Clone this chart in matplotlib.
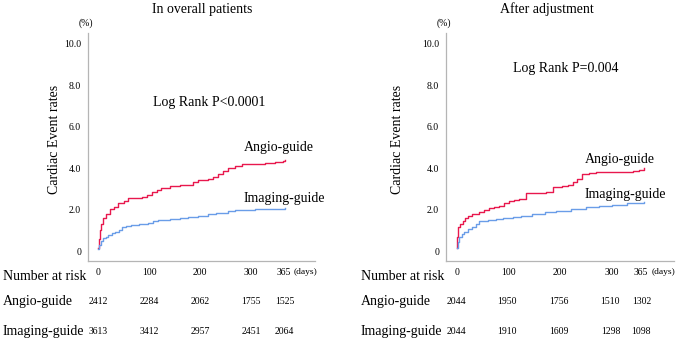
import numpy as np
import matplotlib
matplotlib.use('Agg')
import matplotlib.pyplot as plt
import matplotlib.transforms as mtransforms

# ---- data ----
titles = ['In overall patients', 'After adjustment']
log_rank = ['Log Rank P<0.0001', 'Log Rank P=0.004']
groups = ['Angio-guide', 'Imaging-guide']

x_ticks = [0, 100, 200, 300, 365]
y_ticks = [0, 2, 4, 6, 8, 10]
y_tick_labels = ['0', '2.0', '4.0', '6.0', '8.0', '10.0']

# overall patients
all_angio_days = [0, 1, 3, 6, 10, 15, 23, 30, 39, 50, 59, 70, 85, 95, 105, 115, 124, 140, 160, 176,
                  186, 196, 216, 225, 235, 245, 255, 268, 281, 300, 327, 346, 362, 366]
all_angio_rate = [0.14, 0.6, 1.0, 1.33, 1.6, 1.78, 2.05, 2.15, 2.3, 2.42, 2.54, 2.58, 2.62, 2.72, 2.83,
                  2.95, 3.05, 3.12, 3.18, 3.21, 3.32, 3.42, 3.46, 3.58, 3.70, 3.85, 3.99, 4.1, 4.19,
                  4.22, 4.26, 4.28, 4.35, 4.39]
all_imaging_days = [0, 2, 5, 10, 15, 20, 27, 33, 40, 46, 55, 65, 80, 98, 108, 118, 140, 160, 176, 196,
                    216, 230, 242, 255, 268, 307, 340, 366]
all_imaging_rate = [0.12, 0.3, 0.48, 0.61, 0.7, 0.77, 0.86, 0.93, 1.04, 1.14, 1.2, 1.25, 1.31, 1.37,
                    1.44, 1.49, 1.55, 1.6, 1.65, 1.71, 1.78, 1.82, 1.85, 1.92, 1.98, 2.01, 2.04, 2.07]

# after adjustment
adj_angio_days = [0, 1, 3, 7, 11, 16, 21, 30, 43, 52, 62, 72, 82, 92, 101, 110, 120, 133, 150, 172,
                  185, 204, 215, 224, 233, 243, 255, 269, 300, 340, 352, 362]
adj_angio_rate = [0.13, 0.7, 1.14, 1.3, 1.46, 1.6, 1.70, 1.78, 1.87, 1.97, 2.06, 2.12, 2.19, 2.3, 2.43,
                  2.47, 2.51, 2.79, 2.82, 2.86, 3.07, 3.12, 3.2, 3.32, 3.5, 3.72, 3.78, 3.83, 3.84,
                  3.86, 3.93, 4.0]
adj_imaging_days = [0, 2, 4.5, 9, 14, 22, 30, 37, 43, 60, 75, 90, 108, 125, 146, 170, 191, 220, 249,
                    275, 301, 330, 362]
adj_imaging_rate = [0.13, 0.45, 0.66, 0.82, 0.93, 1.05, 1.14, 1.3, 1.46, 1.5, 1.55, 1.58, 1.63, 1.7,
                    1.79, 1.87, 1.95, 2.02, 2.11, 2.16, 2.22, 2.3, 2.35]

# number at risk
all_risk_angio = ['2412', '2284', '2062', '1755', '1525']
all_risk_imaging = ['3613', '3412', '2957', '2451', '2064']
adj_risk_angio = ['2044', '1950', '1756', '1510', '1302']
adj_risk_imaging = ['2044', '1910', '1609', '1298', '1098']
adj_risk_x = [0, 96, 198, 297, 357]

RED = '#e8184d'
BLUE = '#6a9de8'
GRAY = '#b5b5b5'

W, H = 677, 341
plt.rcParams['font.family'] = ['Liberation Serif', 'DejaVu Serif']

BIG = 10
SMALL = 7


def fx(px):
    return px / W


def fy(py):
    return 1 - py / H


def draw_panel(fig, rect, xlim, curves, title, title_x, p_text, p_pos,
               lab_pos, risk_x, risk, row_x, ylab_x, days_x, last_shift):
    ax = fig.add_axes(rect)
    for (d, r), c in zip(curves, [RED, BLUE]):
        ax.step(d, r, where='post', color=c, lw=1.0)
    ax.set_xlim(xlim)
    ax.set_ylim(-0.48, 10.53)
    for s in ['top', 'right']:
        ax.spines[s].set_visible(False)
    for s in ['left', 'bottom']:
        ax.spines[s].set_color(GRAY)
        ax.spines[s].set_linewidth(0.9)
    ax.set_xticks(x_ticks)
    ax.set_xticklabels([str(t) for t in x_ticks], fontsize=SMALL)
    ax.set_yticks(y_ticks)
    ax.set_yticklabels(y_tick_labels, fontsize=SMALL)
    ax.tick_params(length=0, pad=5)
    # nudge the "365" label a little to the left, as in the original
    lab = ax.get_xticklabels()[-1]
    lab.set_transform(lab.get_transform() +
                      mtransforms.ScaledTranslation(-last_shift / 100, 0, fig.dpi_scale_trans))

    fig.text(title_x, fy(9), title, ha='center', va='center', fontsize=BIG)
    fig.text(ylab_x, fy(139), 'Cardiac Event rates', rotation=90, ha='center', va='center',
             fontsize=BIG)
    ax.text(-0.01, 1.02, '(%)', transform=ax.transAxes, ha='center', va='bottom', fontsize=SMALL)
    ax.text(p_pos[0], p_pos[1], p_text, ha='left', va='center', fontsize=BIG)
    for g, (lx, ly) in zip(groups, lab_pos):
        ax.text(lx, ly, g, ha='left', va='center', fontsize=BIG)

    tr = mtransforms.blended_transform_factory(ax.transData, fig.transFigure)
    fig.text(days_x, fy(272), '(days)', ha='left', va='center', fontsize=6.8)
    fig.text(row_x, fy(276), 'Number at risk', ha='left', va='center', fontsize=BIG)
    for g, row, py in zip(groups, risk, [302, 331]):
        fig.text(row_x, fy(py), g, ha='left', va='center', fontsize=BIG)
        for xv, n in zip(risk_x, row):
            ax.text(xv, fy(py), n, transform=tr, ha='center', va='center', fontsize=SMALL)
    return ax


fig = plt.figure(figsize=(W / 100, H / 100), dpi=100)

draw_panel(fig, [fx(88), fy(261), fx(227), 228 / H], (-20, 425),
           [(all_angio_days, all_angio_rate), (all_imaging_days, all_imaging_rate)],
           titles[0], fx(202), log_rank[0], (108, 7.18),
           [(286, 5.0), (284, 2.55)], x_ticks, [all_risk_angio, all_risk_imaging],
           fx(3), fx(55), fx(294), 1)

draw_panel(fig, [fx(446), fy(261), fx(228), 228 / H], (-21, 420),
           [(adj_angio_days, adj_angio_rate), (adj_imaging_days, adj_imaging_rate)],
           titles[1], fx(547), log_rank[1], (108, 8.8),
           [(247, 4.4), (247, 2.75)], adj_risk_x, [adj_risk_angio, adj_risk_imaging],
           fx(361), fx(397), fx(652), 5)

fig.savefig('out.png', dpi=100)
